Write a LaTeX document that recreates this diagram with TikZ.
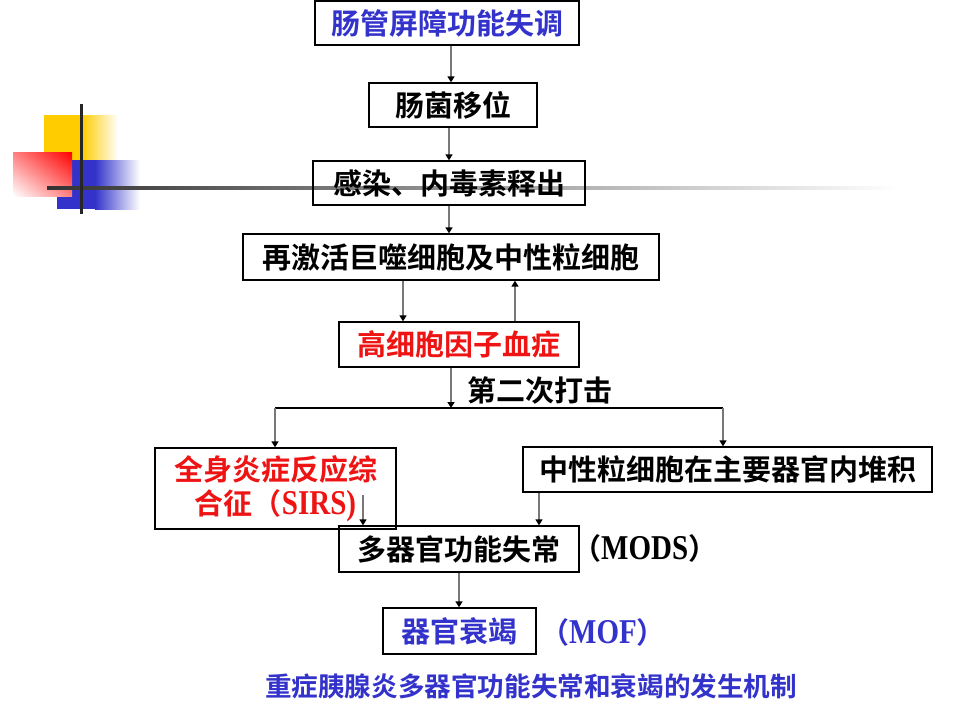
\documentclass[tikz,border=0pt]{standalone}
\usepackage{fontspec}
\usepackage{graphicx}
\usetikzlibrary{arrows.meta,shadings}
\newfontfamily\cjk{Noto Sans CJK SC}[BoldFont={Noto Sans CJK SC Bold}]
\newfontfamily\lat{Liberation Serif}
\definecolor{tblue}{RGB}{51,51,204}
\definecolor{tred}{RGB}{238,20,20}
\definecolor{dyellow}{RGB}{255,204,0}
\definecolor{dblue}{RGB}{51,51,204}
\definecolor{arrgray}{RGB}{120,120,120}
\newcommand\lt[1]{\scalebox{1}[1.2]{\lat\bfseries #1}}
\begin{document}
\begin{tikzpicture}[x=1pt,y=-1pt,
  box/.style={draw=black, line width=1.3pt, inner sep=0pt, font=\cjk\bfseries\fontsize{29}{34}\selectfont},
  arr/.style={draw=arrgray, line width=1.5pt, -{Triangle[length=6pt,width=7pt,color=black]}},
  lbl/.style={inner sep=0pt, font=\cjk\bfseries\fontsize{29}{34}\selectfont}]
\useasboundingbox (0,0) rectangle (960,720);
% decoration
\fill[dyellow] (44,115) rectangle (82,160);
\shade[left color=dyellow, right color=white] (82,115) rectangle (118,160);
\fill[dblue] (57,160) rectangle (95,209);
\shade[left color=dblue, right color=white] (95,160) rectangle (140,209);
\shade[upper right=red, lower left=white, upper left=red!50!white, lower right=red!50!white] (13,152) rectangle (72,196);
\shade[left color=black!80, right color=white] (47,186.8) rectangle (900,189.4);
\draw[line width=3pt, black!85] (81,104) -- (81,214);
% boxes
\node[box, minimum width=264pt, minimum height=44pt, text=tblue] (b1) at (447,23) {肠管屏障功能失调};
\node[box, minimum width=168pt, minimum height=44pt] (b2) at (453,105) {肠菌移位};
\node[box, minimum width=272pt, minimum height=44pt] (b3) at (449,183) {感染、内毒素释出};
\node[box, minimum width=416pt, minimum height=46pt] (b4) at (451,257) {再激活巨噬细胞及中性粒细胞};
\node[box, minimum width=240pt, minimum height=45pt, text=tred] (b5) at (459,344.5) {高细胞因子血症};
\node[box, minimum width=241pt, minimum height=81pt, text=tred, align=center] (b6) at (275.5,488.5) {全身炎症反应综\\合征（\lt{SIRS)}};
\node[box, minimum width=409pt, minimum height=45pt] (b7) at (727.5,469.5) {中性粒细胞在主要器官内堆积};
\node[box, minimum width=240pt, minimum height=46pt] (b8) at (459,549) {多器官功能失常};
\node[box, minimum width=153pt, minimum height=46pt, text=tblue] (b9) at (459.5,631) {器官衰竭};
% labels
\node[lbl] (hit) at (540,390) {第二次打击};
\node[lbl, anchor=west] (mods) at (572,548) {（\lt{MODS}）};
\node[lbl, anchor=west, text=tblue] (mof) at (540,632) {（\lt{MOF}）};
\node[lbl, text=tblue, font=\cjk\bfseries\fontsize{26.6}{30}\selectfont] (cap) at (531,686) {重症胰腺炎多器官功能失常和衰竭的发生机制};
% connector coordinates
\coordinate (xa) at (451,0);
\coordinate (xb) at (449,0);
\coordinate (xc) at (403,0);
\coordinate (xd) at (515,0);
\coordinate (xf) at (539,0);
\coordinate (xg) at (459,0);
\coordinate (sl) at (275,408);
\coordinate (sr) at (723,408);
\coordinate (sm) at (451,408);
\coordinate (s6) at (363,495);
% connectors
\draw[arr] (xa |- b1.south) -- (xa |- b2.north);
\draw[arr] (xb |- b2.south) -- (xb |- b3.north);
\draw[arr] (xb |- b3.south) -- (xb |- b4.north);
\draw[arr] (xc |- b4.south) -- (xc |- b5.north);
\draw[arr] (xd |- b5.north) -- (xd |- b4.south);
\draw[line width=1.2pt] (sl) -- (sr);
\draw[arr] (sm |- b5.south) -- (sm);
\draw[arr] (sl) -- (sl |- b6.north);
\draw[arr] (sr) -- (sr |- b7.north);
\draw[arr] (s6) -- (s6 |- b8.north);
\draw[arr] (xf |- b7.south) -- (xf |- b8.north);
\draw[arr] (xg |- b8.south) -- (xg |- b9.north);
\end{tikzpicture}
\end{document}
